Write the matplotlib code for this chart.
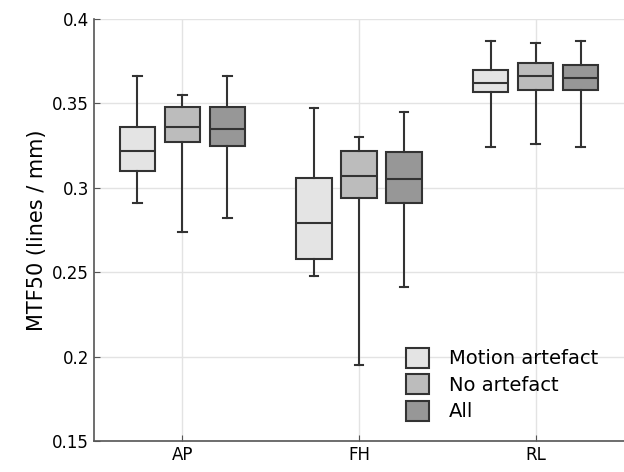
import numpy as np
import matplotlib
matplotlib.use("Agg")
import matplotlib.pyplot as plt
from matplotlib.patches import Patch

categorias = ["AP", "FH", "RL"]
grupos = ["Motion artefact", "No artefact", "All"]
cores = ["#e4e4e4", "#bcbcbc", "#979797"]

# estatisticas: [whislo, q1, med, q3, whishi]
motion = [[0.291, 0.310, 0.322, 0.336, 0.366],
          [0.248, 0.258, 0.279, 0.306, 0.347],
          [0.324, 0.357, 0.362, 0.370, 0.387]]
no_artefact = [[0.274, 0.327, 0.336, 0.348, 0.355],
               [0.195, 0.294, 0.307, 0.322, 0.330],
               [0.326, 0.358, 0.366, 0.374, 0.386]]
todos = [[0.282, 0.325, 0.335, 0.348, 0.366],
         [0.241, 0.291, 0.305, 0.321, 0.345],
         [0.324, 0.358, 0.365, 0.373, 0.387]]


def main():
    fig = plt.figure(figsize=(6.24, 4.72), dpi=100)
    ax = fig.add_axes([0.1506, 0.0657, 0.8494, 0.894])

    deslocamentos = [-0.255, 0.0, 0.255]
    for serie, cor, d in zip([motion, no_artefact, todos], cores, deslocamentos):
        stats = []
        for v in serie:
            stats.append(dict(whislo=v[0], q1=v[1], med=v[2], q3=v[3],
                              whishi=v[4], fliers=[]))
        pos = np.arange(1, len(categorias) + 1) + d
        ax.bxp(stats, positions=pos, widths=0.2, capwidths=0.05,
               patch_artist=True, showfliers=False, manage_ticks=False,
               boxprops=dict(facecolor=cor, edgecolor="#333333", linewidth=1.5),
               medianprops=dict(color="#333333", linewidth=1.5),
               whiskerprops=dict(color="#333333", linewidth=1.5),
               capprops=dict(color="#333333", linewidth=1.5))

    ax.set_xlim(0.5, 3.5)
    ax.set_ylim(0.15, 0.4)
    ax.set_xticks(np.arange(1, len(categorias) + 1))
    ax.set_xticklabels(categorias)
    ax.set_yticks([0.15, 0.2, 0.25, 0.3, 0.35, 0.4])
    ax.set_yticklabels(["0.15", "0.2", "0.25", "0.3", "0.35", "0.4"])
    ax.tick_params(direction="in", length=4, labelsize=12, color="#555555")
    ax.set_ylabel("MTF50 (lines / mm)", fontsize=15)
    ax.grid(True, color="#e3e3e3", linewidth=1)
    ax.set_axisbelow(True)
    ax.spines["top"].set_visible(False)
    ax.spines["right"].set_visible(False)
    for s in ["left", "bottom"]:
        ax.spines[s].set_color("#555555")
        ax.spines[s].set_linewidth(1.2)

    handles = [Patch(facecolor=c, edgecolor="#333333", linewidth=1.5) for c in cores]
    ax.legend(handles, grupos, loc="lower left", bbox_to_anchor=(0.589, 0.047),
              frameon=False, fontsize=14, handlelength=1.2, handleheight=1.2,
              handletextpad=1.0, labelspacing=0.3, borderpad=0,
              borderaxespad=0)

    fig.savefig("out.png", dpi=100)


if __name__ == '__main__':
    main()
